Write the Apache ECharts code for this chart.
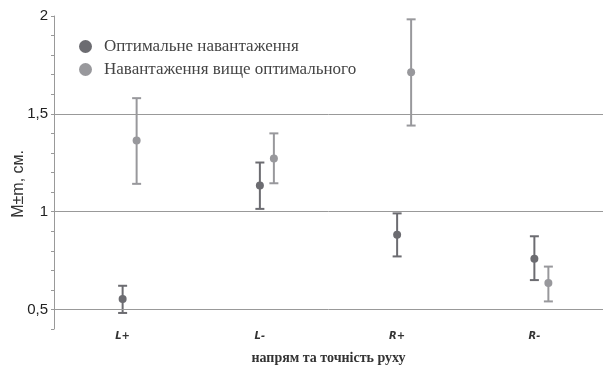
<!DOCTYPE html>
<html><head><meta charset="utf-8">
<script src="https://cdn.jsdelivr.net/npm/echarts@6/dist/echarts.min.js"></script>
<style>html,body{margin:0;padding:0;background:#fff}#c{width:609px;height:370px}</style>
</head><body><div id="c"></div>
<script>
const categories = ['L+', 'L-', 'R+', 'R-'];
const seriesNames = ['Оптимальне навантаження', 'Навантаження вище оптимального'];
const optMean = [0.553, 1.133, 0.882, 0.759];
const optLow  = [0.482, 1.014, 0.771, 0.650];
const optHigh = [0.621, 1.251, 0.991, 0.874];
const aboveMean = [1.364, 1.271, 1.713, 0.635];
const aboveLow  = [1.142, 1.145, 1.440, 0.541];
const aboveHigh = [1.580, 1.400, 1.983, 0.719];
const gridValues = [0.5, 1, 1.5];

const colors = ['#6c6c71', '#98989c'];
const offsets = [0, 14];

function makeData(m, lo, hi) { return categories.map((c, i) => [i, m[i], lo[i], hi[i]]); }

function renderer(k) {
  return function (params, api) {
    const x = api.value(0);
    const pm = api.coord([x, api.value(1)]);
    const pl = api.coord([x, api.value(2)]);
    const ph = api.coord([x, api.value(3)]);
    const cx = pm[0] + offsets[k];
    const st = { stroke: colors[k], lineWidth: 2 };
    return { type: 'group', children: [
      { type: 'line', shape: { x1: cx, y1: pl[1], x2: cx, y2: ph[1] }, style: st },
      { type: 'line', shape: { x1: cx - 4.5, y1: ph[1], x2: cx + 4.5, y2: ph[1] }, style: st },
      { type: 'line', shape: { x1: cx - 4.5, y1: pl[1], x2: cx + 4.5, y2: pl[1] }, style: st },
      { type: 'circle', shape: { cx: cx, cy: pm[1], r: 4 }, style: { fill: colors[k] } }
    ]};
  };
}

const chart = echarts.init(document.getElementById('c'), null, { renderer: 'canvas' });
chart.setOption({
  animation: false,
  grid: { left: 54, right: 6, top: 16, bottom: 41, containLabel: false, outerBoundsMode: 'none' },
  legend: {
    orient: 'vertical', left: 74, top: 33, itemGap: 6, itemWidth: 13, itemHeight: 13,
    icon: 'circle',
    textStyle: { fontFamily: 'Liberation Serif', fontSize: 17, color: '#444', padding: [0, 0, 0, 7] },
    data: seriesNames
  },
  xAxis: {
    type: 'category', data: categories,
    axisLine: { show: false }, axisTick: { show: false },
    axisLabel: { margin: 2, fontFamily: 'DejaVu Sans', fontStyle: 'italic', fontWeight: 'bold', fontSize: 10, color: '#333' },
    name: 'напрям та точність руху', nameLocation: 'middle', nameGap: 22,
    nameTextStyle: { fontFamily: 'Liberation Serif', fontWeight: 'bold', fontSize: 14, color: '#333' }
  },
  yAxis: {
    type: 'value', min: 0.4, max: 2, interval: 0.1,
    axisLine: { show: true, lineStyle: { color: '#999', width: 1 } },
    axisTick: { show: true, length: 3, lineStyle: { color: '#999' } },
    splitLine: { show: false },
    axisLabel: {
      margin: 6, fontFamily: 'Liberation Sans', fontSize: 15, color: '#222',
      formatter: v => Math.abs(v * 2 - Math.round(v * 2)) < 1e-6 ? String(Math.round(v * 10) / 10).replace('.', ',') : ''
    }
  },
  graphic: [{
    type: 'text', left: 11, top: 150, rotation: Math.PI / 2,
    style: { text: 'M±m, см.', font: '16px "Liberation Sans"', fill: '#333' }
  }],
  series: [
    {
      name: seriesNames[0], type: 'custom', renderItem: renderer(0),
      itemStyle: { color: colors[0] },
      encode: { x: 0, y: [1, 2, 3] },
      data: makeData(optMean, optLow, optHigh),
      z: 3,
      markLine: {
        silent: true, symbol: 'none', label: { show: false },
        lineStyle: { color: '#999', type: 'solid', width: 1 },
        data: gridValues.map(v => ({ yAxis: v }))
      }
    },
    {
      name: seriesNames[1], type: 'custom', renderItem: renderer(1),
      itemStyle: { color: colors[1] },
      encode: { x: 0, y: [1, 2, 3] },
      data: makeData(aboveMean, aboveLow, aboveHigh),
      z: 3
    }
  ]
});
</script></body></html>
